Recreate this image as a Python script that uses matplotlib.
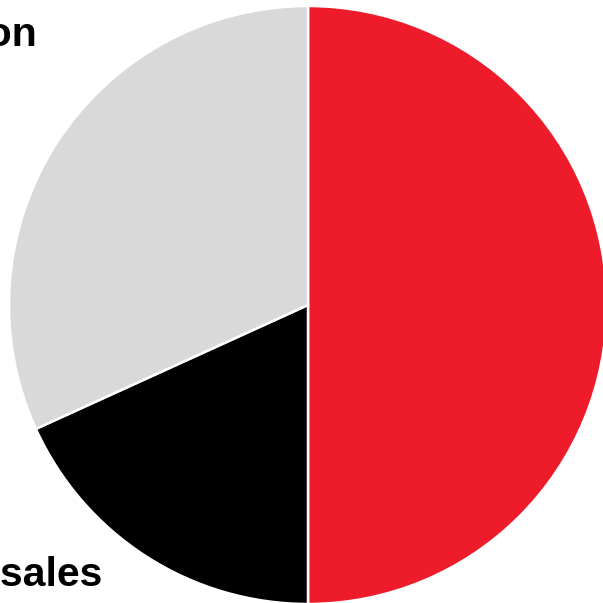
import matplotlib
matplotlib.use("Agg")
import matplotlib.pyplot as plt

categories = ["Online", "Retail sales", "Distribution"]
values = [50.0, 18.2, 31.8]
colors = ["#EE1C2B", "#000000", "#D9D9D9"]

fig = plt.figure(figsize=(6.03, 6.03), dpi=100)
cx, cy, r = 308 / 603, 1 - 305 / 603, 299 / 603
ax = fig.add_axes([cx - r, cy - r, 2 * r, 2 * r])
ax.pie(values, colors=colors, startangle=90, counterclock=False,
       wedgeprops=dict(edgecolor="white", linewidth=1.8), radius=1.0)
ax.set_xlim(-1, 1)
ax.set_ylim(-1, 1)
ax.set_aspect("equal")
ax.axis("off")

fig.text(37 / 603, 1 - 46 / 603, categories[2], ha="right", va="baseline",
         fontsize=29.5, fontweight="bold", family="Liberation Sans", color="#000000")
fig.text(102 / 603, 1 - 586 / 603, categories[1], ha="right", va="baseline",
         fontsize=29.5, fontweight="bold", family="Liberation Sans", color="#000000")

fig.savefig("out.png", dpi=100)
